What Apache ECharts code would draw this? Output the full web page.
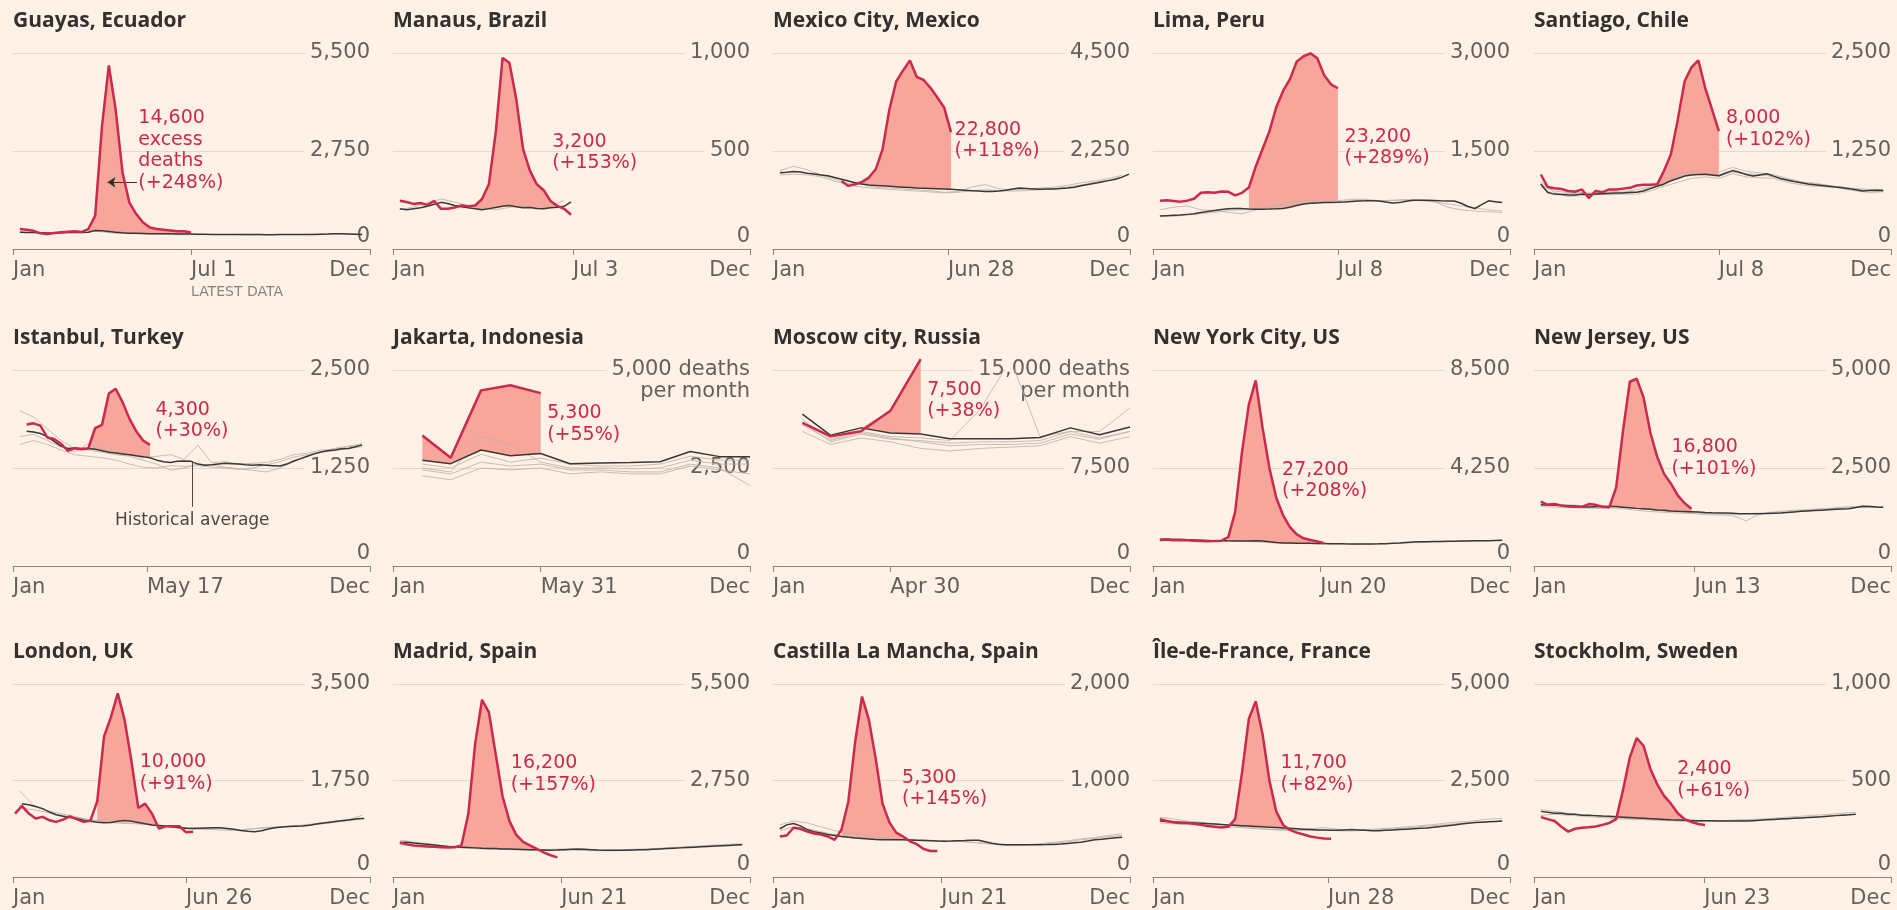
<!DOCTYPE html>
<html><head><meta charset="utf-8">
<script src="https://cdn.jsdelivr.net/npm/echarts@6/dist/echarts.min.js"></script>
<style>html,body{margin:0;padding:0;background:#fff1e5;}#c{width:1897px;height:910px;}</style>
</head><body><div id="c"></div>
<script>
// ---------------- DATA ----------------
const titles = ['Guayas, Ecuador','Manaus, Brazil','Mexico City, Mexico','Lima, Peru','Santiago, Chile',
  'Istanbul, Turkey','Jakarta, Indonesia','Moscow city, Russia','New York City, US','New Jersey, US',
  'London, UK','Madrid, Spain','Castilla La Mancha, Spain','Île-de-France, France','Stockholm, Sweden'];
const yMax = [5500,1000,4500,3000,2500, 2500,5000,15000,8500,5000, 3500,5500,2000,5000,1000];
const topLabel = [null,null,null,null,null, null,['5,000 deaths','per month'],['15,000 deaths','per month'],null,null, null,null,null,null,null];
const latestLabel = ['Jul 1','Jul 3','Jun 28','Jul 8','Jul 8','May 17','May 31','Apr 30','Jun 20','Jun 13','Jun 26','Jun 21','Jun 21','Jun 28','Jun 23'];
const latestDay = [183,185,180,190,190,138,152,121,172,165,178,173,173,180,175];
const monthEndDay = [31,60,91,121,152,182,213,244,274,305,335,366];
const excessText = ['14,600\nexcess\ndeaths\n(+248%)','3,200\n(+153%)','22,800\n(+118%)','23,200\n(+289%)','8,000\n(+102%)',
  '4,300\n(+30%)','5,300\n(+55%)','7,500\n(+38%)','27,200\n(+208%)','16,800\n(+101%)',
  '10,000\n(+91%)','16,200\n(+157%)','5,300\n(+145%)','11,700\n(+82%)','2,400\n(+61%)'];
const redStartWeek = [1,1,10,1,1, 2,0,0,1,1, 0.3,1,1,1,1];
const avgStartWeek = [1,1,1,1,1, 2,0,0,1,1, 1.3,1,1,1,1];
const fillFromIdx = [10,11,3,13,17, 9,0,2,10,10, 12,9,9,10,11];

// 2020 deaths (weekly, or monthly for Jakarta & Moscow)
const redGuayas = [560,540,510,440,420,450,470,485,495,475,560,930,3450,5150,3900,2140,1300,980,745,605,560,540,520,500,495,466];
const redManaus = [246,240,230,235,225,245,205,205,212,222,218,222,255,330,593,975,950,765,510,400,330,300,245,220,205,175];
const redMexico = [1563,1449,1487,1541,1640,1830,2288,3203,3850,4100,4330,3950,3880,3700,3480,3250,2680];
const redLima = [740,745,735,725,740,770,860,870,860,880,875,820,860,940,1260,1530,1800,2170,2420,2600,2870,2950,2995,2920,2660,2520,2460];
const redSantiago = [950,790,775,765,740,730,760,650,740,725,760,760,770,780,810,820,820,825,1000,1210,1650,2140,2318,2407,2055,1780,1504];
const redIstanbul = [1806,1820,1790,1640,1620,1560,1470,1500,1490,1500,1760,1800,2200,2260,2090,1880,1720,1600,1545];
const redJakarta = [3330,2760,4480,4610,4410];
const redMoscow = [10960,9920,10310,11880,15830];
const redNYC = [1130,1150,1120,1130,1120,1090,1080,1070,1080,1100,1250,2350,4950,7000,8050,6000,4250,2960,2200,1690,1370,1200,1130,1060,990];
const redNJ = [1640,1560,1580,1540,1520,1510,1510,1580,1560,1510,1500,2000,3450,4700,4780,4300,3400,2780,2350,2100,1800,1600,1460];
const redLondon = [1150,1290,1150,1060,1090,1030,1000,1040,1100,1050,1000,1020,1370,2550,2900,3330,2850,2100,1250,1330,1150,880,920,920,920,810,820];
const redMadrid = [980,930,900,880,870,860,850,840,850,900,1800,3800,5050,4700,3500,2300,1600,1200,1000,900,800,700,620,560];
const redCLM = [420,430,510,500,470,450,440,420,385,490,780,1400,1870,1630,1227,760,566,460,420,370,340,290,270,270];
const redIdF = [1500,1450,1420,1400,1400,1380,1350,1320,1300,1280,1300,1500,2700,4100,4550,3700,2500,1700,1350,1220,1150,1100,1050,1020,1000,990];
const redStockholm = [310,300,290,260,235,250,255,258,262,270,280,300,450,620,720,680,560,480,420,380,330,300,285,275,270];

// historical average
const avgGuayas = [470,465,460,455,450,450,455,460,460,465,470,520,510,490,470,455,445,440,435,430,430,425,425,420,420,420,415,415,410,410,410,405,405,410,410,405,400,400,405,410,410,405,405,410,415,420,430,425,420,415,410];
const avgManaus = [205,200,205,210,218,228,238,232,222,216,210,205,200,206,212,218,222,216,210,212,207,205,210,213,218,240];
const avgMexico = [1750,1760,1780,1770,1740,1720,1700,1680,1640,1600,1560,1520,1490,1470,1460,1450,1440,1430,1420,1410,1400,1395,1390,1385,1380,1370,1360,1350,1340,1330,1320,1320,1330,1350,1380,1400,1390,1380,1370,1375,1380,1390,1400,1420,1450,1480,1510,1540,1570,1600,1650,1720];
const avgLima = [505,510,515,520,530,540,560,575,590,605,615,620,618,612,608,610,612,615,620,640,665,690,700,705,710,712,715,720,728,735,737,740,735,720,705,710,730,745,748,745,742,738,736,735,700,650,620,680,737,725,710];
const avgSantiago = [830,720,700,695,690,690,700,695,700,705,710,715,715,720,725,740,770,800,830,870,900,930,945,950,955,945,935,970,1000,980,950,930,945,960,930,900,880,860,845,830,820,810,800,790,780,770,755,740,745,750,745];
const avgIstanbul = [1720,1710,1690,1650,1590,1530,1500,1505,1500,1500,1490,1470,1450,1440,1430,1420,1405,1395,1380,1350,1330,1320,1335,1340,1335,1300,1285,1290,1300,1310,1305,1300,1290,1285,1290,1285,1280,1275,1300,1340,1370,1400,1430,1455,1470,1480,1495,1500,1520,1545];
const avgJakarta = [2700,2610,2960,2810,2870,2610,2630,2640,2660,2920,2790,2790];
const avgMoscow = [11620,10000,10570,10180,10100,9740,9740,9740,9840,10570,10050,10630];
const avgNYC = [1150,1155,1150,1145,1140,1130,1120,1110,1100,1095,1090,1088,1086,1088,1095,1080,1050,1020,1000,995,990,985,982,980,975,970,965,960,958,955,953,955,960,970,985,1000,1020,1040,1050,1055,1060,1065,1070,1075,1080,1085,1090,1095,1100,1108,1114];
const avgNJ = [1560,1555,1550,1545,1540,1530,1505,1505,1510,1515,1518,1515,1500,1485,1470,1460,1445,1430,1420,1405,1395,1390,1385,1375,1365,1358,1354,1350,1345,1335,1330,1330,1335,1340,1348,1354,1365,1380,1395,1405,1415,1425,1435,1445,1455,1460,1490,1525,1520,1505,1500];
const avgLondon = [1330,1310,1280,1240,1180,1130,1100,1080,1060,1030,1010,995,985,990,1010,1025,1010,990,965,945,935,925,910,895,885,880,885,890,893,892,880,865,845,830,822,840,870,895,905,915,920,925,940,960,980,995,1010,1025,1040,1055,1060];
const avgMadrid = [980,990,970,950,930,910,890,870,860,850,840,830,820,815,810,800,795,790,785,780,775,770,765,770,780,790,800,790,780,770,765,760,760,765,770,775,780,790,800,810,820,830,840,850,860,870,880,890,900,910,920];
const avgCLM = [500,540,555,530,490,470,455,440,430,420,412,405,400,395,388,385,385,385,385,384,380,378,375,372,370,372,375,378,382,380,365,350,340,335,334,334,334,334,335,336,338,342,348,354,360,372,385,392,400,406,412];
const avgIdF = [1450,1440,1430,1420,1410,1400,1390,1380,1370,1360,1350,1340,1330,1320,1310,1300,1290,1280,1270,1260,1250,1240,1230,1220,1220,1210,1210,1220,1230,1220,1210,1200,1200,1210,1220,1230,1240,1250,1260,1270,1290,1310,1330,1350,1370,1390,1410,1420,1430,1440,1450];
const avgStockholm = [340,335,330,330,325,325,320,320,318,316,315,312,310,308,306,304,302,300,298,296,295,294,293,292,292,292,290,290,290,290,290,292,294,296,298,300,302,304,306,308,310,312,315,318,320,322,325];

// individual past years (every second week; monthly for Jakarta & Moscow)
const grayGuayas = [[480,460,440,450,470,520,480,440,430,425,420,410,405,400,410,405,400,395,405,410,405,410,420,430,420,415]];
const grayManaus = [[200,215,235,255,240,220,205,200,212,222,208,214,250]];
const grayMexico = [[1800,1900,1820,1700,1600,1500,1480,1420,1400,1380,1360,1340,1300,1320,1420,1480,1380,1350,1380,1400,1420,1460,1520,1560,1620,1690],
  [1700,1720,1700,1660,1560,1470,1420,1390,1370,1350,1330,1310,1290,1300,1340,1360,1340,1330,1340,1360,1380,1420,1470,1530,1580,1650]];
const grayLima = [[600,640,660,600,590,560,540,600,640,700,740,740,730,740,760,760,740,745,760,750,730,640,600,580,570,560],
  [510,500,520,540,560,590,600,620,640,660,680,700,720,730,735,740,740,745,745,740,720,690,660,630,600,580]];
const graySantiago = [[860,720,670,680,690,700,720,760,790,860,960,990,1010,980,1040,990,970,950,900,860,830,810,770,740,720,730],
  [790,690,710,720,710,690,700,700,740,800,850,900,920,900,960,920,910,900,850,820,800,790,790,770,760,760],
  [820,740,720,690,700,730,740,730,780,820,920,960,940,930,980,960,950,920,870,850,840,810,790,760,750,740]];
const grayIstanbul = [[1980,1900,1750,1600,1500,1480,1450,1420,1400,1350,1300,1220,1250,1300,1290,1260,1240,1220,1200,1250,1330,1400,1460,1500,1530,1560],
  [1650,1680,1600,1520,1450,1560,1500,1450,1420,1380,1400,1420,1360,1540,1320,1330,1300,1310,1320,1360,1420,1440,1480,1490,1520,1540],
  [1550,1600,1550,1480,1420,1400,1380,1350,1300,1260,1250,1280,1270,1280,1260,1250,1230,1250,1290,1330,1390,1420,1460,1470,1500,1520]];
const grayJakarta = [[2450,2350,2650,2550,2600,2450,2450,2400,2400,2600,2500,2050],
  [2300,2200,2500,2450,2500,2350,2400,2350,2350,2550,2450,2350],
  [2600,2500,2850,2650,2750,2600,2550,2550,2600,2800,2700,2700],
  [2500,2400,3300,3100,2650,2500,2500,2480,2500,2700,2600,2600]];
const grayMoscow = [[11200,9700,10300,9900,9800,9600,12000,15800,9900,10300,9800,10300],
  [11000,9500,10100,9700,9600,9400,9500,9500,9600,10300,10300,12100],
  [10300,9300,9800,9500,9000,8800,9000,9100,9200,9900,9400,9900],
  [10800,9600,10200,9800,9500,9200,9300,9300,9400,10100,9700,10300]];
const grayNYC = [[1200,1180,1150,1120,1100,1080,1080,1050,1010,990,980,970,960,960,950,955,960,980,1000,1020,1040,1050,1070,1090,1100,1120]];
const grayNJ = [[1600,1580,1560,1540,1530,1520,1500,1470,1440,1400,1380,1360,1340,1330,1320,1340,1350,1380,1410,1430,1450,1470,1500,1520,1530,1510],
  [1520,1500,1490,1480,1470,1480,1460,1420,1390,1370,1350,1340,1310,1300,1290,1150,1330,1360,1390,1410,1440,1460,1480,1490,1500,1490]];
const grayLondon = [[1560,1300,1200,1150,1100,1040,1000,980,970,960,930,900,880,870,860,850,840,880,900,910,930,950,980,1010,1040,1120],
  [1250,1220,1170,1120,1080,1040,1020,1000,980,960,940,920,900,890,880,870,860,870,890,910,920,940,960,990,1020,1060]];
const grayMadrid = [[1050,1000,950,900,870,850,830,810,800,790,780,790,800,780,770,760,770,790,800,820,840,870,890,910,930,950],
  [920,900,880,860,840,820,800,790,780,770,760,760,770,760,750,745,750,770,790,810,830,850,870,880,900,920]];
const grayCLM = [[540,580,560,520,480,460,440,420,400,390,390,380,375,370,360,350,340,330,335,345,360,375,395,410,430,450],
  [480,520,500,470,440,420,410,400,395,385,380,378,372,368,360,345,332,325,330,340,350,365,385,400,420,430]];
const grayIdF = [[1550,1500,1450,1420,1380,1340,1300,1270,1240,1230,1220,1250,1280,1240,1220,1230,1250,1270,1300,1330,1360,1400,1430,1460,1500,1520],
  [1400,1380,1360,1340,1320,1300,1280,1250,1230,1210,1200,1210,1220,1200,1190,1210,1230,1250,1270,1300,1330,1360,1390,1410,1430,1450]];
const grayStockholm = [[350,340,330,320,315,310,305,300,300,295,292,290,290,292,295,298,300,305,310,315,320,325,330,335],
  [320,325,320,315,310,305,300,298,295,292,290,288,288,290,292,294,296,300,304,308,312,316,320,324]];

const redAll = [redGuayas,redManaus,redMexico,redLima,redSantiago,redIstanbul,redJakarta,redMoscow,redNYC,redNJ,redLondon,redMadrid,redCLM,redIdF,redStockholm];
const avgAll = [avgGuayas,avgManaus,avgMexico,avgLima,avgSantiago,avgIstanbul,avgJakarta,avgMoscow,avgNYC,avgNJ,avgLondon,avgMadrid,avgCLM,avgIdF,avgStockholm];
const grayAll = [grayGuayas,grayManaus,grayMexico,grayLima,graySantiago,grayIstanbul,grayJakarta,grayMoscow,grayNYC,grayNJ,grayLondon,grayMadrid,grayCLM,grayIdF,grayStockholm];

// ---------------- LAYOUT / STYLE ----------------
const colLeft = [13, 393, 773, 1153, 1534];
const rowTop = [53, 370, 684];
const plotW = 357, plotH = 196;
const X_MAX = 365/7;
// annotation anchors in data units [week, deaths]
const annoAt = [[18.31,2757],[23.25,492],[26.52,2484],[27.98,1554],[28.03,1528],[20.8,1852],[22.52,3622],[22.52,12643],[18.85,3695],[20.07,2755],[18.5,1889],[17.21,2932],[18.85,918],[18.61,2666],[20.92,503]];
const BG = '#fff1e5', RED = '#cc2a4a', FILL = '#f8a59c', AVG = '#3b3735', GRAY = '#bdb4ab';
const NUMFONT = 'DejaVu Sans', TITLEFONT = 'Open Sans';
const fmt = v => v.toLocaleString('en-US');

const monthly = p => p === 6 || p === 7;
const monthX = monthEndDay.map(d => (d - 1) / 7);

const option = {backgroundColor: BG, animation: false, title: [], grid: [], xAxis: [], yAxis: [], series: []};

for (let p = 0; p < 15; p++) {
  const c = p % 5, r = Math.floor(p / 5);
  const L = colLeft[c], T = rowTop[r];
  const lw = (latestDay[p] - 1) / 7;
  option.title.push({text: titles[p], left: L, top: T - 42, padding: 0,
    textStyle: {fontFamily: TITLEFONT, fontWeight: 700, fontSize: 21, color: '#33302e'}});
  option.grid.push({left: L, top: T, width: plotW, height: plotH});
  option.xAxis.push({gridIndex: p, type: 'value', min: 0, max: X_MAX,
    axisLine: {show: true, onZero: false, lineStyle: {color: '#8c857f', width: 1}},
    axisTick: {show: true, customValues: [0, lw, X_MAX], length: 6, lineStyle: {color: '#8c857f'}},
    splitLine: {show: false},
    axisLabel: {show: true, customValues: [0, lw, X_MAX], margin: 10, align: 'left', alignMaxLabel: 'right',
      color: '#66605c', fontSize: 21, fontFamily: NUMFONT, lineHeight: 23,
      rich: {s: {fontSize: 14, color: '#8a837e', fontFamily: NUMFONT, lineHeight: 20}},
      formatter: v => v < 0.01 ? 'Jan' : (v > X_MAX - 0.01 ? 'Dec' : (p === 0 ? latestLabel[p] + '\n{s|LATEST DATA}' : latestLabel[p]))}
  });
  const nStyle = {backgroundColor: BG, padding: [0, 0, 0, 5], lineHeight: 22, fontSize: 21, color: '#66605c', fontFamily: NUMFONT};
  option.yAxis.push({gridIndex: p, type: 'value', position: 'right', min: 0, max: yMax[p], interval: yMax[p] / 2,
    axisLine: {show: false}, axisTick: {show: false},
    splitLine: {show: true, lineStyle: {color: '#e6d8ca', width: 1}},
    axisLabel: {inside: true, margin: 0, color: '#66605c', fontSize: 21, fontFamily: NUMFONT,
      rich: {n: nStyle, z: {lineHeight: 24, fontSize: 21, color: '#66605c', fontFamily: NUMFONT}, e: {lineHeight: 22, fontSize: 21}, e2: {lineHeight: 24, fontSize: 21}},
      formatter: v => {
        if (v === 0) return '{z|0}\n{e2| }';
        if (v === yMax[p] && topLabel[p]) return '{e| }\n{n|' + topLabel[p][0] + '}\n{n|' + topLabel[p][1] + '}';
        return '{n|' + fmt(v) + '}';
      }}
  });

  const red = redAll[p], avg = avgAll[p];
  const redX = i => monthly(p) ? monthX[i] : redStartWeek[p] + i;
  const avgX = i => monthly(p) ? monthX[i] : avgStartWeek[p] + i;
  const grayX = i => monthly(p) ? monthX[i] : 1 + 2 * i;
  const base = {type: 'line', xAxisIndex: p, yAxisIndex: p, symbol: 'none', silent: true};

  // excess fill: polygon between 2020 line and historical average, projected by the axes
  const topPts = [], botPts = [];
  for (let i = fillFromIdx[p]; i < red.length; i++) {
    const x = redX(i);
    const ai = monthly(p) ? i : Math.round(x - avgStartWeek[p]);
    const a = avg[ai];
    topPts.push([x, Math.max(red[i], a)]);
    botPts.push([x, a]);
  }
  const polyPts = topPts.concat(botPts.slice().reverse());
  option.series.push({type: 'custom', xAxisIndex: p, yAxisIndex: p, silent: true, z: 1, clip: false,
    data: [polyPts[0]],
    renderItem: (params, api) => ({type: 'polygon', shape: {points: polyPts.map(pt => api.coord(pt))}, style: {fill: FILL}})
  });

  grayAll[p].forEach(g => option.series.push(Object.assign({}, base, {
    data: g.map((v, i) => [grayX(i), v]), lineStyle: {color: GRAY, width: 1, opacity: 0.85}, z: 2})));

  const avgSeries = Object.assign({}, base, {data: avg.map((v, i) => [avgX(i), v]), lineStyle: {color: AVG, width: 1.5}, z: 3});
  if (p === 5) {
    avgSeries.markLine = {silent: true, symbol: 'none', animation: false,
      lineStyle: {color: '#4d4845', width: 1, type: 'solid'},
      label: {show: true, position: 'end', distance: 5, formatter: 'Historical average', color: '#4d4845', fontSize: 17, fontFamily: NUMFONT},
      data: [[{coord: [26.18, 1330]}, {coord: [26.18, 756]}]]};
  }
  option.series.push(avgSeries);

  const redSeries = Object.assign({}, base, {data: red.map((v, i) => [redX(i), v]), lineStyle: {color: RED, width: 2.5}, z: 5, clip: false,
    markPoint: {silent: true, symbol: 'circle', symbolSize: 0, animation: false,
      label: {show: true, position: 'right', distance: 0, formatter: excessText[p], color: RED, fontSize: 19, lineHeight: 21.5, fontFamily: NUMFONT, align: 'left'},
      data: [{coord: annoAt[p]}]}});
  if (p === 0) {
    redSeries.markLine = {silent: true, symbol: ['none', 'arrow'], symbolSize: 8, animation: false,
      lineStyle: {color: '#33302e', width: 1, type: 'solid'}, label: {show: false},
      data: [[{coord: [18.1, 1870]}, {coord: [13.8, 1870]}]]};
  }
  option.series.push(redSeries);
}

const chart = echarts.init(document.getElementById('c'), null, {renderer: 'canvas'});
chart.setOption(option);
</script></body></html>
